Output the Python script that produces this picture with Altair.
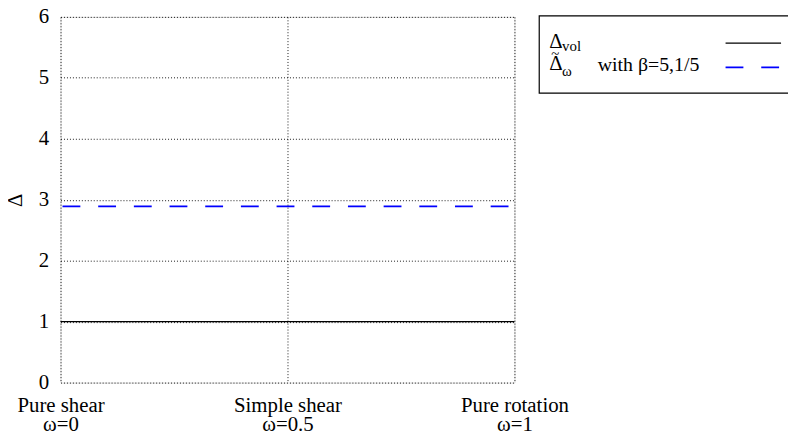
import altair as alt
import pandas as pd

# ---- data ----
omega = [0.0, 1.0]
delta_vol = [1.0, 1.0]
delta_omega = [2.89, 2.89]

x_tick_values = [0, 0.5, 1]
x_tick_line1 = ["Pure shear", "Simple shear", "Pure rotation"]
x_tick_line2 = ["ω=0", "ω=0.5", "ω=1"]
y_tick_values = [0, 1, 2, 3, 4, 5, 6]

legend_vol_main, legend_vol_sub = "Δ", "vol"
legend_om_main, legend_om_sub, legend_om_text = "Δ", "ω", "with β=5,1/5"

FONT = "Liberation Serif"
W, H = 458, 369

df = pd.DataFrame({"omega": omega, "vol": delta_vol, "om": delta_omega})

label_expr = " : ".join(
    f"datum.value == {v} ? ['{a}', '{b}']" for v, a, b in zip(x_tick_values, x_tick_line1, x_tick_line2)
) + " : ''"

xs = alt.Scale(domain=[0, 1], nice=False)
ys = alt.Scale(domain=[0, 6], nice=False)

x_axis = alt.Axis(values=x_tick_values, labelExpr=label_expr, title=None, grid=True,
                  ticks=False, domain=False, labelPadding=12, labelLineHeight=19,
                  labelFlush=False, labelAlign="center", labelOverlap=False,
                  labelFont=FONT, labelFontSize=21, labelColor="black",
                  gridColor="black", gridDash=[1, 2], gridWidth=1, gridOpacity=0.9)
y_axis = alt.Axis(values=y_tick_values, format="d", title="Δ", grid=True, ticks=False,
                  domain=False, labelFlush=False, labelOverlap=False,
                  labelPadding=12, labelFont=FONT, labelFontSize=21, labelColor="black",
                  titleFont=FONT, titleFontSize=21, titleFontWeight="normal", titleColor="black",
                  titleAngle=270, titleX=-45, titleY=H / 2, titleAlign="center",
                  titleBaseline="middle",
                  gridColor="black", gridDash=[1, 2], gridWidth=1, gridOpacity=0.9)

base = alt.Chart(df)

vol_line = base.mark_line(color="black", strokeWidth=1.2).encode(
    x=alt.X("omega:Q", scale=xs, axis=x_axis),
    y=alt.Y("vol:Q", scale=ys, axis=y_axis),
)
om_line = base.mark_line(color="#0000ff", strokeWidth=1.8, strokeDash=[18, 18],
                         strokeDashOffset=34).encode(
    x=alt.X("omega:Q", scale=xs),
    y=alt.Y("om:Q", scale=ys),
)

one = pd.DataFrame({"k": [0]})
lg = alt.Chart(one)

box = lg.mark_rect(fill=None, stroke="black", strokeWidth=1.2).encode(
    x=alt.value(483), x2=alt.value(745), y=alt.value(-1), y2=alt.value(77))


def txt(s, x, y, size):
    return lg.mark_text(text=s, font=FONT, fontSize=size, align="left",
                        baseline="alphabetic", color="black").encode(
        x=alt.value(x), y=alt.value(y))


t1 = txt(legend_vol_main, 493, 31, 21)
t1s = txt(legend_vol_sub, 506, 34.5, 15)
t2 = txt(legend_om_main, 493, 54, 21)
t2tilde = txt("~", 495, 43, 15)
t2s = txt(legend_om_sub, 506, 59.5, 15)
t2t = txt(legend_om_text, 542, 54.5, 20)

s1 = lg.mark_rule(color="black", strokeWidth=1.2).encode(
    x=alt.value(671), x2=alt.value(727), y=alt.value(26.5))
s2 = lg.mark_rule(color="#0000ff", strokeWidth=1.8, strokeDash=[18, 18]).encode(
    x=alt.value(671), x2=alt.value(725), y=alt.value(51))

chart = alt.layer(vol_line, om_line, box, t1, t1s, t2, t2tilde, t2s, t2t, s1, s2).properties(
    width=W, height=H,
    padding={"left": 53, "top": 7, "right": 276, "bottom": 58},
    autosize=alt.AutoSizeParams(type="none"),
).configure_view(stroke="black", strokeWidth=1.5).configure(background="white")

chart.save("out.html", embed_options={"renderer": "svg", "actions": False})
